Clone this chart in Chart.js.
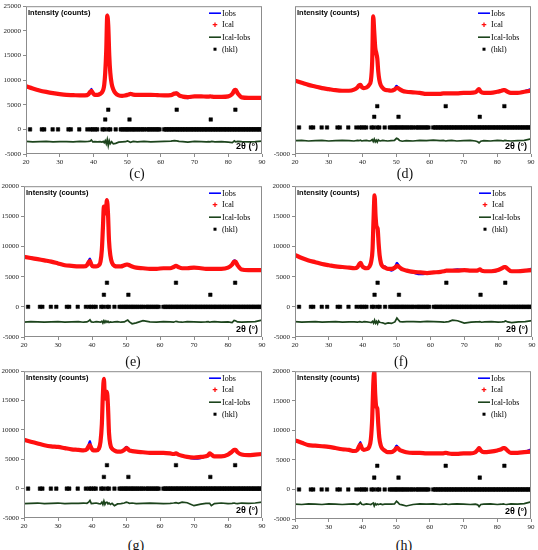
<!DOCTYPE html>
<html>
<head>
<meta charset="utf-8">
<script src="https://cdn.jsdelivr.net/npm/chart.js@4.4.1/dist/chart.umd.min.js"></script>
<style>
html, body { margin: 0; padding: 0; background: #fff; }
body { width: 538px; height: 550px; position: relative; overflow: hidden; font-family: "Liberation Serif", serif; }
.box { position: absolute; }
.tag { position: absolute; font-size: 14px; transform: translate(-50%, -50%); color: #111; }
</style>
</head>
<body>
<div class="box" style="left:0;top:0;width:268px;height:170px"><canvas id="pc"></canvas></div>
<div class="box" style="left:268px;top:0;width:270px;height:170px"><canvas id="pd"></canvas></div>
<div class="box" style="left:0;top:180px;width:268px;height:174px"><canvas id="pe"></canvas></div>
<div class="box" style="left:268px;top:180px;width:270px;height:174px"><canvas id="pf"></canvas></div>
<div class="box" style="left:0;top:365px;width:268px;height:170px"><canvas id="pg"></canvas></div>
<div class="box" style="left:268px;top:365px;width:270px;height:170px"><canvas id="ph"></canvas></div>

<div class="tag" style="left:137px;top:174px">(c)</div>
<div class="tag" style="left:405px;top:174px">(d)</div>
<div class="tag" style="left:133px;top:362px">(e)</div>
<div class="tag" style="left:401px;top:362px">(f)</div>
<div class="tag" style="left:136px;top:546px">(g)</div>
<div class="tag" style="left:404px;top:546px">(h)</div>

<script>
// ---- 2theta grid shared by every pattern (degrees) ----
const TWO_THETA = [20, 22, 24, 26, 28, 30, 32, 34, 36, 37.5,
    38.5, 39.0, 39.4, 39.8, 40.4, 41.2, 42.0, 42.5, 42.9, 43.2,
    43.5, 43.8, 44.1, 44.4, 44.7, 45.0, 45.4, 45.9, 46.6, 47.5,
    48.5, 49.5, 50.1, 50.5, 51.0, 51.8, 53, 55, 57, 59,
    61, 63, 64.0, 64.7, 65.4, 66.5, 68, 70, 72, 73.5,
    74.2, 74.6, 75.1, 76, 78, 80, 81.2, 81.8, 82.2, 82.8,
    84, 86, 88, 90];

// ---- (c) ----
const C_ICAL = [8750, 8300, 7900, 7600, 7350, 7150, 7000, 6950, 6900, 6900,
    7100, 7600, 7800, 7400, 7000, 7000, 7200, 7500, 8000, 9000,
    11500, 16000, 23100, 21000, 15000, 11500, 9300, 8100, 7300, 6900,
    6800, 6900, 7000, 7100, 7200, 7050, 7000, 7000, 7000, 6950,
    6900, 6950, 7250, 7300, 6900, 6650, 6550, 6700, 6700, 6650,
    6650, 6700, 6650, 6600, 6600, 6700, 7200, 7900, 8000, 7300,
    6500, 6400, 6400, 6400];
const C_IOBS = [8700, 8300, 7950, 7600, 7300, 7150, 7000, 6900, 6950, 6900,
    7050, 7500, 8200, 7400, 7000, 6950, 7200, 7500, 8000, 9100,
    11300, 16200, 23300, 20800, 15200, 11300, 9100, 8200, 7250, 6900,
    6800, 6850, 7050, 7050, 7150, 7100, 6950, 7000, 6950, 6900,
    6900, 6950, 7350, 7450, 6900, 6600, 6350, 6700, 6650, 6650,
    6600, 6700, 6700, 6550, 6600, 6650, 7150, 8100, 8000, 7250,
    6450, 6400, 6400, 6450];
const C_DIFF = [-2450, -2550, -2500, -2450, -2550, -2500, -2500, -2550, -2450, -2500,
    -2450, -2400, -2150, -2550, -2500, -2550, -2500, -2600, -2450, -2700,
    -2300, -2900, -2050, -3300, -2300, -2900, -2500, -2950, -2850, -2600,
    -2550, -2500, -2350, -2450, -2650, -2450, -2550, -2450, -2550, -2500,
    -2450, -2400, -2300, -2350, -2450, -2500, -2600, -2450, -2500, -2550,
    -2500, -2550, -2450, -2550, -2500, -2600, -2700, -2350, -2550, -2450,
    -2500, -2550, -2500, -2400];

// ---- (d) ----
const D_ICAL = [8800, 8400, 8000, 7700, 7400, 7200, 7000, 6900, 6900, 7100,
    7500, 7900, 8000, 7600, 7400, 7500, 8000, 8800, 12500, 20900,
    18000, 15000, 14000, 13000, 10500, 9000, 8000, 7500, 7100, 7000,
    6900, 7100, 7400, 7400, 7200, 6900, 6700, 6600, 6500, 6300,
    6300, 6300, 6400, 6400, 6400, 6400, 6400, 6500, 6500, 6600,
    7000, 7200, 6700, 6500, 6500, 6700, 6900, 7000, 7000, 6800,
    6500, 6500, 6700, 6900];
const D_IOBS = [8750, 8400, 8050, 7650, 7400, 7150, 7000, 6850, 6850, 7100,
    7450, 7900, 7950, 7650, 7400, 7450, 8000, 8900, 12700, 20800,
    18200, 14800, 14100, 13200, 10300, 9000, 8100, 7450, 7050, 7000,
    6850, 7150, 7800, 7600, 7250, 6850, 6700, 6550, 6500, 6250,
    6300, 6250, 6400, 6350, 6450, 6350, 6400, 6550, 6500, 6600,
    7100, 7100, 6600, 6500, 6450, 6700, 6950, 7050, 7000, 6800,
    6450, 6500, 6800, 7200];
const D_DIFF = [-2500, -2450, -2550, -2500, -2450, -2550, -2500, -2450, -2500, -2550,
    -2450, -2500, -2400, -2550, -2500, -2450, -2550, -2500, -2300, -2650,
    -2200, -2700, -2400, -2750, -2350, -2500, -2550, -2450, -2500, -2550,
    -2500, -2450, -2050, -2150, -2450, -2600, -2500, -2550, -2450, -2500,
    -2400, -2500, -2450, -2550, -2500, -2450, -2550, -2500, -2450, -2550,
    -2700, -2900, -2600, -2500, -2550, -2450, -2500, -2550, -2450, -2500,
    -2550, -2500, -2450, -2150];

// ---- (e) ----
const E_ICAL = [8300, 8100, 7900, 7700, 7500, 7200, 6900, 6800, 6700, 6700,
    6900, 7400, 7600, 7000, 6700, 6700, 6900, 7500, 9500, 13000,
    16600, 15500, 16000, 17700, 15500, 11000, 8500, 7300, 6800, 6700,
    6700, 6900, 7000, 7000, 6900, 6700, 6500, 6400, 6300, 6300,
    6400, 6400, 6600, 6800, 6600, 6400, 6400, 6500, 6400, 6300,
    6300, 6300, 6300, 6300, 6300, 6500, 7000, 7500, 7500, 6900,
    6200, 6100, 6100, 6100];
const E_IOBS = [8250, 8150, 7850, 7750, 7450, 7250, 6850, 6800, 6650, 6700,
    6850, 7600, 8000, 7000, 6650, 6700, 6850, 7500, 9700, 12800,
    16400, 15700, 15800, 17800, 15300, 11100, 8400, 7300, 6750, 6700,
    6650, 6900, 7100, 7100, 6850, 6700, 6450, 6400, 6300, 6250,
    6400, 6350, 6650, 6850, 6550, 6400, 6350, 6500, 6400, 6300,
    6250, 6300, 6350, 6250, 6300, 6500, 7050, 7700, 7600, 6850,
    6150, 6050, 6000, 6200];
const E_DIFF = [-2550, -2450, -2500, -2550, -2500, -2450, -2550, -2500, -2450, -2550,
    -2500, -2350, -2150, -2500, -2550, -2450, -2500, -2550, -2400, -2700,
    -2300, -2600, -2350, -2550, -2400, -2600, -2500, -2550, -2500, -2450,
    -2550, -2500, -2300, -2200, -2500, -2800, -2650, -2300, -2500, -2550,
    -2450, -2500, -2550, -2400, -2500, -2550, -2450, -2500, -2550, -2500,
    -2450, -2550, -2500, -2450, -2550, -2500, -2600, -2250, -2300, -2500,
    -2550, -2500, -2450, -2200];

// ---- (f) ----
const F_ICAL = [8600, 8100, 7700, 7400, 7100, 6900, 6700, 6600, 6500, 6400,
    6600, 7100, 7300, 6800, 6500, 6400, 6700, 7500, 9500, 14500,
    18500, 15000, 13300, 13000, 10500, 8500, 7200, 6700, 6500, 6300,
    6300, 6500, 6800, 6700, 6500, 6200, 6000, 5800, 5700, 5600,
    5700, 5800, 5900, 6000, 6000, 6000, 6000, 6100, 6000, 6000,
    6100, 6200, 6000, 5900, 5900, 6100, 6400, 6600, 6600, 6300,
    5900, 5900, 6000, 6100];
const F_IOBS = [8550, 8150, 7650, 7400, 7050, 6900, 6650, 6600, 6450, 6400,
    6550, 7150, 7300, 6750, 6500, 6350, 6700, 7600, 9700, 14700,
    18300, 15200, 13100, 13200, 10300, 8600, 7300, 6800, 6700, 6250,
    6000, 6500, 7300, 7000, 6500, 6250, 5950, 5650, 5400, 5500,
    5700, 5750, 5900, 6050, 5950, 6100, 6200, 6100, 6000, 6050,
    6100, 6250, 5950, 5900, 5850, 6000, 6400, 6650, 6600, 6300,
    5850, 5950, 6050, 6350];
const F_DIFF = [-2450, -2550, -2500, -2450, -2550, -2500, -2450, -2550, -2500, -2500,
    -2550, -2450, -2500, -2550, -2450, -2500, -2550, -2600, -2400, -2700,
    -2200, -2700, -2400, -2800, -2350, -2550, -2600, -2650, -2800, -2650,
    -2750, -2500, -1850, -2150, -2450, -2500, -2450, -2450, -2500, -2400,
    -2450, -2500, -2550, -2500, -2450, -2200, -2300, -2700, -2550, -2500,
    -2500, -2450, -2550, -2500, -2450, -2550, -2500, -2450, -2350, -2500,
    -2600, -2500, -2450, -2300];

// ---- (g) ----
const G_ICAL = [8300, 8000, 7700, 7400, 7200, 7100, 6900, 6700, 6600, 6500,
    6700, 7200, 7400, 6900, 6500, 6500, 6800, 8000, 11000, 16000,
    18700, 15500, 15300, 16500, 14000, 9500, 7500, 6800, 6500, 6300,
    6300, 6600, 6900, 6800, 6500, 6400, 6300, 6200, 6100, 6100,
    6100, 6000, 5900, 6000, 5800, 5600, 5400, 5300, 5400, 5500,
    5700, 6000, 5800, 5500, 5500, 5800, 6300, 6600, 6600, 6200,
    5800, 5700, 5800, 5900];
const G_IOBS = [8250, 8050, 7650, 7400, 7150, 7100, 6850, 6700, 6550, 6500,
    6650, 7500, 8100, 6900, 6450, 6500, 6800, 8100, 11300, 15800,
    18800, 15300, 15500, 16300, 14200, 9400, 7400, 6900, 6450, 6300,
    6250, 6650, 7100, 6900, 6450, 6400, 6250, 6200, 6050, 6100,
    6100, 6000, 5950, 6100, 5750, 5650, 5350, 5100, 5200, 5500,
    5650, 6050, 5700, 5500, 5450, 5800, 6250, 6650, 6650, 6200,
    5750, 5700, 5750, 5900];
const G_DIFF = [-2550, -2500, -2450, -2550, -2500, -2450, -2550, -2500, -2500, -2450,
    -2500, -2300, -2000, -2550, -2500, -2450, -2550, -2600, -2300, -2700,
    -2100, -2700, -2350, -2300, -2600, -2450, -2700, -2500, -2900, -2600,
    -2550, -2450, -2300, -2350, -2500, -2450, -2550, -2500, -2450, -2500,
    -2550, -2500, -2450, -2400, -2500, -2300, -2400, -2900, -2650, -2500,
    -2500, -2500, -2900, -2550, -2450, -2550, -2500, -2450, -2500, -2550,
    -2450, -2500, -2450, -2300];

// ---- (h) ----
const H_ICAL = [8300, 7900, 7500, 7400, 7300, 7200, 7000, 6800, 6700, 6500,
    6700, 7300, 7600, 7000, 6700, 6800, 7200, 8500, 12000, 17500,
    20000, 16000, 14000, 13700, 11000, 8800, 7500, 6900, 6600, 6300,
    6300, 6600, 7000, 7000, 6700, 6500, 6300, 6200, 6200, 6100,
    6100, 6100, 6100, 6200, 6100, 6000, 6000, 6100, 6100, 6300,
    6700, 7000, 6600, 6300, 6400, 6600, 6800, 7000, 7000, 6700,
    6200, 6200, 6300, 6400];
const H_IOBS = [8250, 7950, 7450, 7350, 7300, 7150, 7000, 6750, 6700, 6450,
    6650, 7500, 8000, 6950, 6700, 6750, 7200, 8600, 12300, 17300,
    20000, 15800, 14100, 13600, 11200, 8700, 7400, 6950, 6650, 6250,
    6200, 6650, 7400, 7200, 6650, 6550, 6250, 6250, 6150, 6100,
    6050, 6150, 6100, 6250, 6050, 6000, 6050, 6100, 6150, 6300,
    6750, 7100, 6500, 6300, 6400, 6600, 6850, 7000, 7050, 6700,
    6200, 6150, 6350, 6800];
const H_DIFF = [-2500, -2550, -2450, -2500, -2550, -2450, -2500, -2550, -2500, -2450,
    -2550, -2450, -2200, -2500, -2550, -2450, -2500, -2550, -2400, -2300,
    -2800, -2400, -2600, -2450, -2550, -2500, -2450, -2550, -2500, -2500,
    -2500, -2450, -2000, -2200, -2500, -2600, -2800, -2550, -2450, -2500,
    -2450, -2550, -2500, -2450, -2550, -2500, -2450, -2500, -2550, -2500,
    -2600, -2900, -2550, -2500, -2450, -2550, -2500, -2450, -2500, -2550,
    -2450, -2500, -2400, -2100];

// ---- reflection markers (hkl), three rows ----
const HKL_LEVELS = [4000, 2000, 0];
const HKL_ROW_TOP = [44.4, 64.7, 82.1];
const HKL_ROW_MID = [43.5, 50.7, 74.8];
const HKL_ROW_ZERO = [21.2, 24.7, 25.4, 27.9, 29.5, 32.6, 33.3, 35.8, 38.2, 39.2,
    39.8, 40.5, 41.1, 42.7, 43.3, 44.4, 45.0, 46.6, 48.1, 48.6,
    49.2, 49.7, 50.2, 50.7, 51.3, 51.8, 52.3, 52.9, 53.4, 54.0,
    54.6, 55.1, 55.9, 56.4, 56.9, 57.5, 58.0, 58.6, 59.1, 59.6,
    61.0, 61.5, 61.9, 62.4, 62.9, 63.3, 63.8, 64.3, 64.8, 65.2,
    65.7, 66.2, 66.6, 67.1, 67.6, 68.0, 68.5, 69.0, 69.4, 69.9,
    70.4, 70.8, 71.3, 71.8, 72.2, 72.7, 73.2, 73.6, 74.1, 74.6,
    75.0, 75.5, 76.0, 76.4, 76.9, 77.4, 77.8, 78.3, 78.8, 79.2,
    79.7, 80.2, 80.6, 81.1, 81.6, 82.0, 82.5, 83.0, 83.4, 83.9,
    84.4, 84.8, 85.3, 85.8, 86.2, 86.7, 87.2, 87.6, 88.1, 88.6,
    89.0, 89.5, 89.9];
const HKL_ROWS = [HKL_ROW_TOP, HKL_ROW_MID, HKL_ROW_ZERO];

// panneaux : données + réglages de mise en page
const PANELS = [
    { id: 'pc', obs: C_IOBS, cal: C_ICAL, diff: C_DIFF, yMax: 25000, yw: 26, top: 6, right: 6, xh: 16 },
    { id: 'pd', obs: D_IOBS, cal: D_ICAL, diff: D_DIFF, yMax: 22800, yw: 27, top: 3, right: 7, xh: 16 },
    { id: 'pe', obs: E_IOBS, cal: E_ICAL, diff: E_DIFF, yMax: 20000, yw: 24, top: 6, right: 6, xh: 17 },
    { id: 'pf', obs: F_IOBS, cal: F_ICAL, diff: F_DIFF, yMax: 20000, yw: 27, top: 6, right: 6, xh: 17 },
    { id: 'pg', obs: G_IOBS, cal: G_ICAL, diff: G_DIFF, yMax: 20000, yw: 24, top: 5, right: 6, xh: 17 },
    { id: 'ph', obs: H_IOBS, cal: H_ICAL, diff: H_DIFF, yMax: 20000, yw: 27, top: 5, right: 7, xh: 16 }
];

function toPoints(ys) {
    return TWO_THETA.map((t, i) => ({ x: t, y: ys[i] }));
}

function hklPoints() {
    const pts = [];
    HKL_ROWS.forEach((row, r) => {
        row.forEach(t => pts.push({ x: t, y: HKL_LEVELS[r] }));
    });
    return pts;
}

// cadre, titres internes et légende dessinés dans la zone du graphe
const decor = {
    id: 'decor',
    afterDatasetsDraw(chart) {
        const { ctx, chartArea: a } = chart;
        ctx.save();
        ctx.strokeStyle = '#8c8c8c';
        ctx.lineWidth = 1;
        ctx.strokeRect(a.left + 0.5, a.top + 0.5, a.right - a.left - 1, a.bottom - a.top - 1);

        ctx.fillStyle = '#000';
        ctx.textBaseline = 'middle';
        ctx.textAlign = 'left';
        ctx.font = 'bold 7.5px "Liberation Sans", Arial, sans-serif';
        ctx.fillText('Intensity (counts)', a.left + 2, a.top + 6.5);

        ctx.textAlign = 'right';
        ctx.font = 'bold 9px "Liberation Sans", Arial, sans-serif';
        ctx.fillText('2θ (°)', a.right - 4, a.bottom - 7);

        // légende
        const x0 = a.right - 53, x1 = a.right - 41, xm = (x0 + x1) / 2;
        const rows = [7, 18.5, 31, 43];
        ctx.font = '8px "Liberation Serif", "Times New Roman", serif';
        ctx.textAlign = 'left';
        chart.data.datasets.forEach((ds, i) => {
            const y = a.top + rows[i];
            if (ds.label === 'Ical') {
                // marqueur "+"
                ctx.strokeStyle = ds.borderColor;
                ctx.lineWidth = 1.3;
                ctx.beginPath();
                ctx.moveTo(xm - 2.3, y); ctx.lineTo(xm + 2.3, y);
                ctx.moveTo(xm, y - 2.3); ctx.lineTo(xm, y + 2.3);
                ctx.stroke();
            } else if (ds.showLine) {
                ctx.strokeStyle = ds.borderColor;
                ctx.lineWidth = 1.6;
                ctx.beginPath();
                ctx.moveTo(x0, y);
                ctx.lineTo(x1, y);
                ctx.stroke();
            } else {
                ctx.fillStyle = '#000';
                ctx.fillRect(xm - 1.5, y - 1.5, 3, 3);
            }
            ctx.fillStyle = '#000';
            ctx.fillText(ds.label, x1 + 1, y + 0.5);
        });
        ctx.restore();
    }
};

const tickFont = { family: '"Liberation Serif", "Times New Roman", serif', size: 7 };

PANELS.forEach(p => {
    new Chart(document.getElementById(p.id), {
        type: 'scatter',
        data: {
            datasets: [
                { label: 'Iobs', data: toPoints(p.obs), showLine: true, borderColor: '#0000ff',
                  borderWidth: 2.2, pointRadius: 0, cubicInterpolationMode: 'monotone', order: 1 },
                { label: 'Ical', data: toPoints(p.cal), showLine: true, borderColor: '#ff1010',
                  borderWidth: 4.2, pointRadius: 0, pointStyle: 'cross', cubicInterpolationMode: 'monotone', order: 0 },
                { label: 'Ical-Iobs', data: toPoints(p.diff), showLine: true, borderColor: '#1c441c',
                  borderWidth: 1.7, pointRadius: 0, order: 2 },
                { label: '(hkl)', data: hklPoints(), showLine: false, pointStyle: 'rect', pointRadius: 2.5,
                  backgroundColor: '#000', borderColor: '#000', borderWidth: 0.5, order: 3 }
            ]
        },
        options: {
            animation: false,
            responsive: true,
            maintainAspectRatio: false,
            events: [],
            layout: { padding: { top: p.top, right: p.right, left: 0, bottom: 0 } },
            plugins: { legend: { display: false }, tooltip: { enabled: false } },
            scales: {
                x: {
                    type: 'linear', min: 20, max: 90,
                    border: { display: false },
                    grid: { drawOnChartArea: false, tickLength: 3, color: '#8c8c8c' },
                    ticks: { stepSize: 10, font: tickFont, color: '#222', padding: 1, maxRotation: 0,
                             callback: v => String(v) },
                    afterFit: s => { s.height = p.xh; }
                },
                y: {
                    type: 'linear', min: -5000, max: p.yMax,
                    border: { display: false },
                    grid: { drawOnChartArea: false, tickLength: 3, color: '#8c8c8c' },
                    ticks: { stepSize: 5000, font: tickFont, color: '#222', padding: 2,
                             callback: v => String(v) },
                    afterBuildTicks: s => { s.ticks = s.ticks.filter(t => t.value % 5000 === 0); },
                    afterFit: s => { s.width = p.yw; }
                }
            }
        },
        plugins: [decor]
    });
});
</script>
</body>
</html>
